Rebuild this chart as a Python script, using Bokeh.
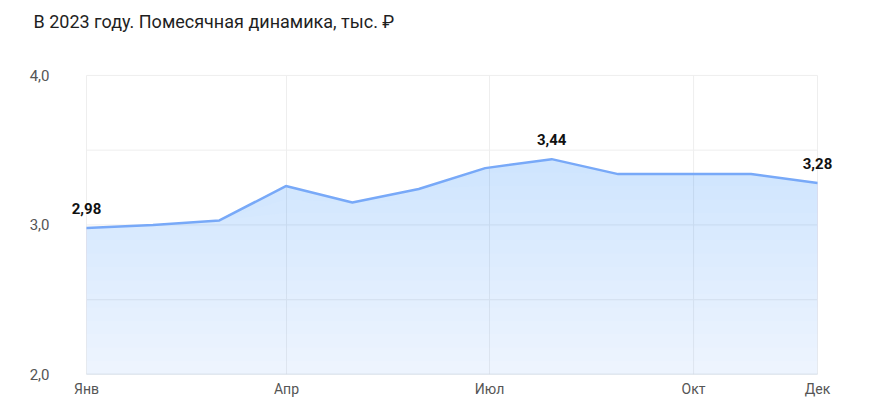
import numpy as np
from bokeh.plotting import figure
from bokeh.models import Range1d, FixedTicker, CustomJSTickFormatter, Title, ColumnDataSource, LabelSet
from bokeh.core.properties import value
from bokeh.embed import file_html
from bokeh.resources import INLINE

# ---- data ----
months = ["Янв", "Фев", "Мар", "Апр", "Май", "Июн", "Июл", "Авг", "Сен", "Окт", "Ноя", "Дек"]
values = [2.98, 3.00, 3.03, 3.26, 3.15, 3.24, 3.38, 3.44, 3.34, 3.34, 3.34, 3.28]
labelled_months = [0, 7, 11]
tick_months = ["Янв", "Апр", "Июл", "Окт", "Дек"]
y_ticks = [2.0, 2.5, 3.0, 3.5, 4.0]
title_text = "В 2023 году. Помесячная динамика, тыс. ₽"

FONT = "Roboto"
LINE = "#78a9f8"
FILL = "#74a7f8"
GRID = "#eeeeee"

x = np.arange(len(months), dtype=float)
y = np.array(values)
x_lo, x_hi = 0.0, float(len(months) - 1)
y_lo, y_hi = y_ticks[0], y_ticks[-1]

# layout constants (padding in data units)
pad_x = 0.346
pad_top = 0.24

p = figure(width=860, height=400, output_backend="svg", toolbar_location=None,
           x_range=Range1d(x_lo - pad_x, x_hi + pad_x), y_range=Range1d(y_lo, y_hi + pad_top),
           min_border_left=63, min_border_right=20, min_border_top=39, min_border_bottom=26)
p.outline_line_color = None
p.background_fill_color = "white"
p.border_fill_color = "white"
p.xgrid.visible = False
p.ygrid.visible = False

# title
t = Title(text=title_text, align="left", offset=-30, standoff=16,
          text_font=FONT, text_font_size="18px", text_font_style="normal", text_color="#1f1f1f")
p.add_layout(t, "above")

# tick positions on x (layout)
tick_pos = [0, 3.01, 6.065, 9.135, 11]

# grid lines drawn as segments bounded by the data area
p.segment(x0=[x_lo] * (len(y_ticks) - 1), x1=[x_hi] * (len(y_ticks) - 1),
          y0=y_ticks[1:], y1=y_ticks[1:], line_color=GRID, line_width=1)
p.segment(x0=tick_pos, x1=tick_pos, y0=[y_lo] * len(tick_pos), y1=[y_hi] * len(tick_pos),
          line_color=GRID, line_width=1)

# gradient-like area fill
p.varea(x=x, y1=np.full_like(y, y_lo), y2=y, fill_color=FILL, fill_alpha=0.13)
N = 16
top = y.max()
for k in range(1, N + 1):
    lo = y_lo + k * (top - y_lo) / N
    y1 = np.minimum(y, lo)
    p.varea(x=x, y1=y1, y2=y, fill_color=FILL, fill_alpha=0.016)

# baseline
p.segment(x0=[x_lo], x1=[x_hi], y0=[y_lo], y1=[y_lo], line_color="#c9d4e0", line_width=1.5)

p.line(x, y, line_color=LINE, line_width=2.5)

# value labels
lx = [float(i) for i in labelled_months]
ly = [values[i] for i in labelled_months]
lt = [f"{values[i]:.2f}".replace(".", ",") for i in labelled_months]
src = ColumnDataSource(dict(x=lx, y=ly, t=lt))
labels = LabelSet(x="x", y="y", text="t", source=src, text_align="center", text_baseline="bottom",
                  y_offset=14, text_font=value(FONT), text_font_size="15px", text_font_style="bold",
                  text_color="#111111")
p.add_layout(labels)

# axes
p.xaxis.ticker = FixedTicker(ticks=tick_pos)
p.xaxis.major_label_overrides = {tp: m for tp, m in zip(tick_pos, tick_months)}
p.xaxis.major_tick_line_color = None
p.xaxis.minor_tick_line_color = None
p.xaxis.axis_line_color = None
p.xaxis.major_label_standoff = 0
p.xaxis.major_label_text_font = FONT
p.xaxis.major_label_text_font_size = "14px"
p.xaxis.major_label_text_color = "#555555"

p.yaxis.ticker = FixedTicker(ticks=y_ticks)
p.yaxis.formatter = CustomJSTickFormatter(code="return (Math.abs(tick - Math.round(tick)) < 1e-9) ? tick.toFixed(1).replace('.', ',') : '';")
p.yaxis.major_tick_line_color = None
p.yaxis.minor_tick_line_color = None
p.yaxis.axis_line_color = None
p.yaxis.major_label_standoff = 8
p.yaxis.major_label_text_font = FONT
p.yaxis.major_label_text_font_size = "15px"
p.yaxis.major_label_text_color = "#555555"

open("out.html", "w").write(file_html(p, INLINE))
